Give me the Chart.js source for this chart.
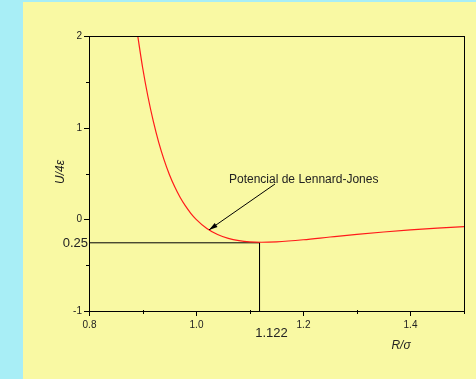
<!DOCTYPE html>
<html>
<head>
<meta charset="utf-8">
<script src="https://cdn.jsdelivr.net/npm/chart.js@4.4.1/dist/chart.umd.min.js"></script>
<style>
  html, body { margin: 0; padding: 0; background: #a8eef6; }
  #wrap { width: 476px; height: 379px; position: relative; }
</style>
</head>
<body>
<div id="wrap"><canvas id="lj"></canvas></div>
<script>
// R/sigma and U/4eps
const rValues = [0.891, 0.90, 0.91, 0.92, 0.93, 0.94, 0.95, 0.96, 0.97, 0.98, 0.99, 1.00,
  1.02, 1.04, 1.06, 1.08, 1.10, 1.122, 1.15, 1.20, 1.25, 1.30, 1.35, 1.40, 1.45, 1.50]
const uValues = [2.0, 1.659, 1.340, 1.071, 0.843, 0.652, 0.490, 0.355, 0.241, 0.146, 0.066, 0,
  -0.100, -0.166, -0.208, -0.233, -0.246, -0.25, -0.245, -0.223, -0.193, -0.164, -0.138, -0.115, -0.096, -0.080]

// marker lines at the minimum
const minX = [0.8, 1.1183, 1.1183]
const minY = [-0.256, -0.256, -1]

const xMajor = [0.8, 1.0, 1.2, 1.4]
const xMinor = [0.9, 1.1, 1.3, 1.5]
const yMajor = [-1, 0, 1, 2]
const yMinor = [-0.5, 0.5, 1.5]
const yMarkLabel = '0.25'
const xMarkLabel = '1.122'
const curveName = 'Potencial de Lennard-Jones'

const curveData = rValues.map((r, i) => ({ x: r, y: uValues[i] }))
const markData = minX.map((x, i) => ({ x, y: minY[i] }))

const FONT = '"Liberation Sans", Arial, sans-serif'

const decor = {
  id: 'decor',
  beforeDraw (chart) {
    const ctx = chart.ctx
    ctx.save()
    ctx.fillStyle = '#a8eef6'
    ctx.fillRect(0, 0, chart.width, chart.height)
    ctx.fillStyle = '#f9f9a3'
    ctx.fillRect(23, 2, chart.width - 23, chart.height - 2)
    ctx.restore()
  },
  afterDraw (chart) {
    const ctx = chart.ctx
    const xs = chart.scales.x
    const ys = chart.scales.y
    const a = chart.chartArea
    ctx.save()
    ctx.strokeStyle = '#000'
    ctx.fillStyle = '#222'
    ctx.lineWidth = 1
    // frame
    ctx.strokeRect(Math.round(a.left) + 0.5, Math.round(a.top) + 0.5,
      Math.round(a.right - a.left), Math.round(a.bottom - a.top))

    ctx.font = '10px ' + FONT
    // x ticks
    ctx.textAlign = 'center'
    ctx.textBaseline = 'top'
    xMajor.forEach(v => {
      const px = Math.round(xs.getPixelForValue(v)) + 0.5
      ctx.beginPath(); ctx.moveTo(px, a.bottom); ctx.lineTo(px, a.bottom + 5); ctx.stroke()
      ctx.fillText(v.toFixed(1), px, a.bottom + 9)
    })
    xMinor.forEach(v => {
      const px = Math.round(xs.getPixelForValue(v)) + 0.5
      ctx.beginPath(); ctx.moveTo(px, a.bottom - 1); ctx.lineTo(px, a.bottom + 3); ctx.stroke()
    })
    // y ticks
    ctx.textAlign = 'right'
    ctx.textBaseline = 'middle'
    yMajor.forEach(v => {
      const py = Math.round(ys.getPixelForValue(v)) + 0.5
      ctx.beginPath(); ctx.moveTo(a.left, py); ctx.lineTo(a.left - 5, py); ctx.stroke()
      ctx.fillText(String(v), a.left - 7, py)
    })
    yMinor.forEach(v => {
      const py = Math.round(ys.getPixelForValue(v)) + 0.5
      ctx.beginPath(); ctx.moveTo(a.left, py); ctx.lineTo(a.left - 3, py); ctx.stroke()
    })

    // marker labels
    ctx.font = '13px ' + FONT
    ctx.textAlign = 'right'
    ctx.fillText(yMarkLabel, a.left - 1, ys.getPixelForValue(minY[0]) + 1)
    ctx.textAlign = 'center'
    ctx.textBaseline = 'top'
    ctx.fillText(xMarkLabel, xs.getPixelForValue(minX[1]) + 12, a.bottom + 16)

    // axis titles
    ctx.font = 'italic 12px ' + FONT
    ctx.fillText('R/\u03c3', 401, 340)
    ctx.save()
    ctx.translate(61, 172)
    ctx.rotate(-Math.PI / 2)
    ctx.textBaseline = 'middle'
    ctx.fillText('U/4\u03b5', 0, 0)
    ctx.restore()

    // annotation
    ctx.font = '12px ' + FONT
    ctx.textAlign = 'left'
    ctx.textBaseline = 'middle'
    ctx.fillText(curveName, 229, 179.5)
    const x0 = 275; const y0 = 184
    const x1 = xs.getPixelForValue(1.024); const y1 = ys.getPixelForValue(-0.115)
    ctx.beginPath(); ctx.moveTo(x0, y0); ctx.lineTo(x1, y1); ctx.stroke()
    const ang = Math.atan2(y1 - y0, x1 - x0)
    ctx.beginPath()
    ctx.moveTo(x1, y1)
    ctx.lineTo(x1 - 9 * Math.cos(ang - 0.28), y1 - 9 * Math.sin(ang - 0.28))
    ctx.lineTo(x1 - 9 * Math.cos(ang + 0.28), y1 - 9 * Math.sin(ang + 0.28))
    ctx.closePath()
    ctx.fillStyle = '#000'
    ctx.fill()
    ctx.restore()
  }
}

const config = {
  type: 'scatter',
  data: {
    datasets: [
      {
        label: curveName,
        data: curveData,
        showLine: true,
        borderColor: '#ff1a1a',
        borderWidth: 1.2,
        pointRadius: 0,
        cubicInterpolationMode: 'monotone'
      },
      {
        label: 'min',
        data: markData,
        showLine: true,
        borderColor: '#000',
        borderWidth: 1,
        pointRadius: 0
      }
    ]
  },
  options: {
    responsive: true,
    maintainAspectRatio: false,
    animation: false,
    layout: { padding: { left: 89, top: 36, right: 12, bottom: 68 } },
    scales: {
      x: { type: 'linear', min: 0.8, max: 1.5, display: false },
      y: { type: 'linear', min: -1, max: 2, display: false }
    },
    plugins: {
      legend: { display: false },
      tooltip: { enabled: false }
    }
  },
  plugins: [decor]
}

new Chart(document.getElementById('lj'), config) // eslint-disable-line
</script>
</body>
</html>
